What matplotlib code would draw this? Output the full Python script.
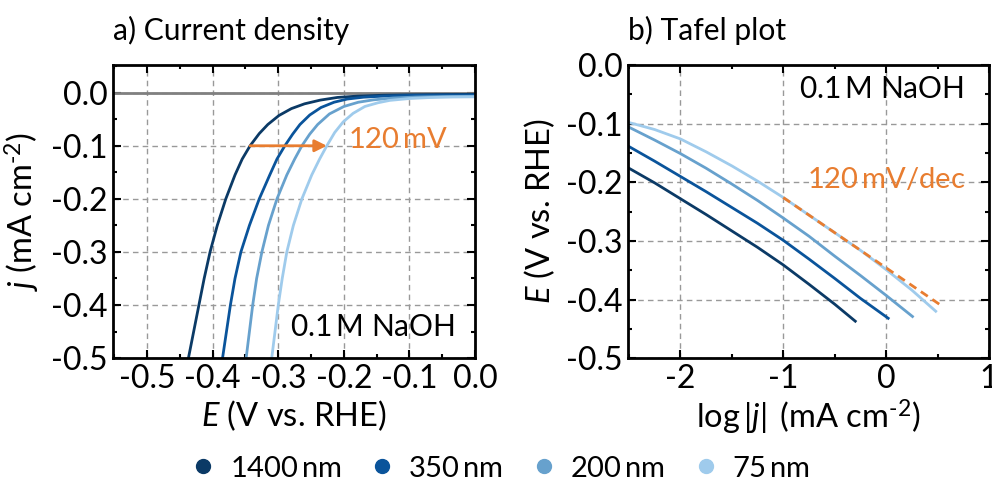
import numpy as np
import matplotlib.pyplot as plt
from matplotlib.ticker import MultipleLocator

plt.rcParams['font.family'] = ['Lato', 'DejaVu Sans']
plt.rcParams['mathtext.fontset'] = 'custom'
plt.rcParams['mathtext.rm'] = 'Lato'
plt.rcParams['mathtext.it'] = 'Lato:italic'
plt.rcParams['font.size'] = 21

labels = ['1400$\\,$nm', '350$\\,$nm', '200$\\,$nm', '75$\\,$nm']
colors = ['#0b3a66', '#0a549b', '#67a1cd', '#9fcbec']
orange = '#e87d30'

# polarisation curves, E (V vs. RHE) and j (mA cm-2)
E_1400 = [-0.441, -0.437, -0.429, -0.421, -0.413, -0.404, -0.393, -0.380, -0.366, -0.355, -0.343, -0.329,
          -0.316, -0.299, -0.280, -0.260, -0.236, -0.210, -0.180, -0.140, -0.100, -0.050, 0.0]
j_1400 = [-0.55, -0.50, -0.45, -0.40, -0.35, -0.30, -0.25, -0.20, -0.155, -0.125, -0.10, -0.077,
          -0.060, -0.043, -0.030, -0.021, -0.014, -0.009, -0.0065, -0.0048, -0.0040, -0.0035, -0.0032]
E_350 = [-0.389, -0.385, -0.379, -0.373, -0.366, -0.357, -0.344, -0.329, -0.313, -0.302, -0.290, -0.278,
         -0.267, -0.252, -0.235, -0.215, -0.195, -0.170, -0.140, -0.100, -0.050, 0.0]
j_350 = [-0.55, -0.50, -0.45, -0.40, -0.35, -0.30, -0.25, -0.20, -0.155, -0.125, -0.10, -0.078,
         -0.060, -0.042, -0.028, -0.018, -0.012, -0.0085, -0.0065, -0.0052, -0.0046, -0.0044]
E_200 = [-0.352, -0.349, -0.344, -0.339, -0.333, -0.325, -0.315, -0.302, -0.287, -0.275, -0.264, -0.252,
         -0.240, -0.222, -0.200, -0.178, -0.155, -0.125, -0.090, -0.050, 0.0]
j_200 = [-0.55, -0.50, -0.45, -0.40, -0.35, -0.30, -0.25, -0.20, -0.155, -0.125, -0.10, -0.078,
         -0.060, -0.040, -0.026, -0.018, -0.0135, -0.0100, -0.0082, -0.0072, -0.0068]
E_75 = [-0.313, -0.310, -0.305, -0.300, -0.294, -0.287, -0.277, -0.264, -0.249, -0.237, -0.226, -0.214,
        -0.201, -0.186, -0.168, -0.148, -0.130, -0.100, -0.070, -0.035, 0.0]
j_75 = [-0.55, -0.50, -0.45, -0.40, -0.35, -0.30, -0.25, -0.20, -0.155, -0.125, -0.10, -0.075,
        -0.055, -0.039, -0.026, -0.019, -0.0145, -0.0110, -0.0092, -0.0082, -0.0078]

# Tafel data, log|j| and E
logj_1400 = [-2.6, -2.5, -2.25, -2.0, -1.75, -1.5, -1.25, -1.0, -0.75, -0.5, -0.30]
Et_1400 = [-0.166, -0.176, -0.201, -0.228, -0.255, -0.283, -0.311, -0.341, -0.374, -0.408, -0.437]
logj_350 = [-2.6, -2.5, -2.25, -2.0, -1.75, -1.5, -1.25, -1.0, -0.75, -0.5, -0.25, 0.02]
Et_350 = [-0.128, -0.139, -0.164, -0.190, -0.216, -0.243, -0.270, -0.299, -0.331, -0.364, -0.398, -0.432]
logj_200 = [-2.6, -2.5, -2.25, -2.0, -1.75, -1.5, -1.25, -1.0, -0.75, -0.5, -0.25, 0.0, 0.256]
Et_200 = [-0.098, -0.106, -0.128, -0.151, -0.176, -0.203, -0.231, -0.261, -0.292, -0.326, -0.359, -0.393, -0.429]
logj_75 = [-2.6, -2.5, -2.25, -2.0, -1.75, -1.5, -1.25, -1.0, -0.75, -0.5, -0.25, 0.0, 0.25, 0.482]
Et_75 = [-0.093, -0.098, -0.110, -0.126, -0.148, -0.172, -0.198, -0.226, -0.256, -0.286, -0.316, -0.349, -0.384, -0.420]

# 120 mV/dec guide line
fit_logj = [-1.0, 0.52]
fit_E = [-0.226, -0.226 - 0.120 * 1.52]

lsv = [(E_1400, j_1400), (E_350, j_350), (E_200, j_200), (E_75, j_75)]
tafel = [(logj_1400, Et_1400), (logj_350, Et_350), (logj_200, Et_200), (logj_75, Et_75)]

fig = plt.figure(figsize=(9.92, 4.82), dpi=100)
ax1 = fig.add_axes([0.1139, 0.257, 0.365, 0.608])
ax2 = fig.add_axes([0.633, 0.257, 0.364, 0.608])


def style(ax):
    for s in ax.spines.values():
        s.set_linewidth(2)
    ax.tick_params(which='both', direction='in', top=True, right=True, width=1.5)
    ax.tick_params(which='major', length=6, pad=4, labelsize=23)
    ax.tick_params(which='minor', length=3)
    ax.grid(True, which='major', ls=(0, (4, 3)), color='#999999', lw=1)
    ax.set_axisbelow(True)


# a) current density
style(ax1)
ax1.axhline(0, color='#808080', lw=2, zorder=1)
for (E, j), c, lab in zip(lsv, colors, labels):
    ax1.plot(E, j, color=c, lw=2, label=lab)
ax1.set_xlim(-0.552, 0.0)
ax1.set_ylim(-0.5, 0.052)
ax1.xaxis.set_major_locator(MultipleLocator(0.1))
ax1.xaxis.set_minor_locator(MultipleLocator(0.05))
ax1.yaxis.set_major_locator(MultipleLocator(0.1))
ax1.yaxis.set_minor_locator(MultipleLocator(0.05))
ax1.xaxis.set_major_formatter(lambda v, p: f'{v:.1f}')
ax1.yaxis.set_major_formatter(lambda v, p: f'{v:.1f}')
ax1.set_xlabel('$E$ (V vs. RHE)', labelpad=3, fontsize=23.5)
ax1.set_ylabel('$j$ (mA cm$^{\\text{-2}}$)', labelpad=6, fontsize=23.5)
ax1.set_title('a) Current density', loc='left', pad=18, fontsize=21.6)
ax1.annotate('', xy=(-0.226, -0.1), xytext=(-0.343, -0.1),
             arrowprops=dict(arrowstyle='-|>', color=orange, lw=2, mutation_scale=18,
                             shrinkA=0, shrinkB=0))
ax1.text(-0.193, -0.090, '120$\\,$mV', color=orange, va='center', ha='left')
ax1.text(0.945, 0.105, '0.1$\\,$M NaOH', transform=ax1.transAxes, ha='right', va='center',
         fontsize=21.5)

# b) Tafel plot
style(ax2)
for (lj, E), c in zip(tafel, colors):
    ax2.plot(lj, E, color=c, lw=2)
ax2.plot(fit_logj, fit_E, color=orange, lw=2, ls=(0, (3, 2)), zorder=3)
ax2.set_xlim(-2.51, 1.0)
ax2.set_ylim(-0.5, 0.0)
ax2.xaxis.set_major_locator(MultipleLocator(1))
ax2.xaxis.set_minor_locator(MultipleLocator(0.5))
ax2.yaxis.set_major_locator(MultipleLocator(0.1))
ax2.yaxis.set_minor_locator(MultipleLocator(0.05))
ax2.xaxis.set_major_formatter(lambda v, p: f'{v:.0f}')
ax2.yaxis.set_major_formatter(lambda v, p: f'{v:.1f}')
ax2.set_xlabel('log$\\,|j|\\,$ (mA cm$^{\\text{-2}}$)', labelpad=3, fontsize=23.5)
ax2.set_ylabel('$E$ (V vs. RHE)', labelpad=6, fontsize=23.5)
ax2.set_title('b) Tafel plot', loc='left', pad=18, fontsize=21.6)
ax2.text(-0.77, -0.196, '120$\\,$mV/dec', color=orange, va='center', ha='left')
ax2.text(0.93, 0.92, '0.1$\\,$M NaOH', transform=ax2.transAxes, ha='right', va='center',
         fontsize=21.5)

handles = [plt.Line2D([], [], ls='none', marker='o', ms=10, color=c) for c in colors]
fig.legend(handles, labels, loc='center', ncol=4, frameon=False,
           bbox_to_anchor=(0.505, 0.028), handletextpad=0.5, columnspacing=1.0,
           handlelength=0.8)

fig.savefig('out.png', dpi=100)
